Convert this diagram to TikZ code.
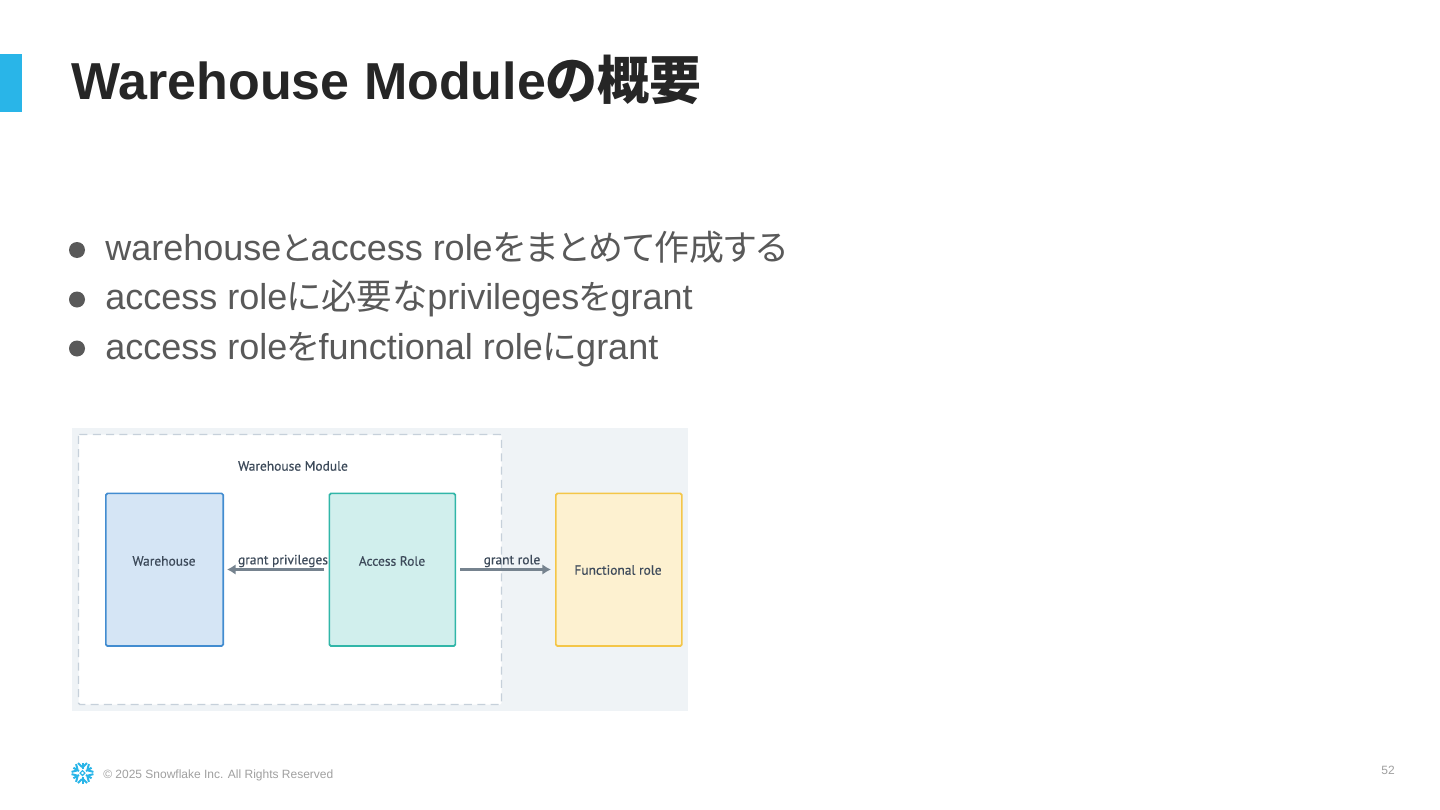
\documentclass[tikz,border=0pt]{standalone}
\usepackage{fontspec}
\setmainfont{Liberation Sans}
\newfontfamily\cjk[RawFeature={+palt}]{Noto Sans CJK JP}
\newfontfamily\din[RawFeature={embolden=0.5}]{PT Sans}
\newcommand{\fsz}[1]{\fontsize{#1}{#1}\selectfont}
\definecolor{accent}{HTML}{29B5E8}
\definecolor{titlec}{HTML}{262626}
\definecolor{bodyc}{HTML}{595959}
\definecolor{footc}{HTML}{A0A0A0}
\definecolor{panel}{HTML}{EFF3F6}
\definecolor{dashc}{HTML}{C6D0DA}
\definecolor{inkc}{HTML}{3D4A5A}
\definecolor{arrowc}{HTML}{76838F}
\usetikzlibrary{arrows.meta}
\tikzset{
  x=0.75pt,y=-0.75pt,
  titletext/.style={anchor=base west,inner sep=0,text=titlec,font=\fsz{39}\bfseries},
  bullettext/.style={anchor=base west,inner sep=0,text=bodyc,font=\fsz{27}},
  bulletdot/.style={circle,fill=bodyc,inner sep=0,minimum size=12pt},
  roleblock/.style={draw,line width=1.3pt,rounded corners=1.2pt,inner sep=0,anchor=north west},
  smalllabel/.style={inner sep=0,text=inkc,font=\din\fsz{10.1}},
  flowarrow/.style={draw=arrowc,line width=2pt,-{Latex[length=6.5pt,width=8pt]}},
  flake/.style={draw=accent,line width=1.5pt,line cap=butt},
}
\begin{document}
\begin{tikzpicture}
\useasboundingbox (0,0) rectangle (1440,810);
\fill[white] (0,0) rectangle (1440,810);
\fill[accent] (0,54) rectangle (22,112);
\node[titletext] (title) at (71,99) {Warehouse Module{\cjk\bfseries の概要}};
\node[bulletdot] (b1) at (77,250) {};
\node[bulletdot] (b2) at (77,299.5) {};
\node[bulletdot] (b3) at (77,348.5) {};
\node[bullettext] (t1) at (105,260) {warehouse{\cjk\fsz{25}と}access role{\cjk\fsz{26.2}をまとめて作成する}};
\node[bullettext] (t2) at (105,309) {access role{\cjk\fsz{26.6}に必要な}privileges{\cjk\fsz{25.5}を}grant};
\node[bullettext] (t3) at (105,359) {access role{\cjk\fsz{25.5}を}functional role{\cjk\fsz{26}に}grant};
\fill[panel] (72,428) rectangle (688,711);
\draw[dashc,fill=white,line width=1pt,dash pattern=on 6pt off 4pt,rounded corners=1pt] (78.5,434.5) rectangle (501.5,704.5);
\node[smalllabel] (wm) at (293,466) {Warehouse Module};
\node[roleblock,fill={rgb,255:red,213;green,229;blue,245},draw={rgb,255:red,66;green,140;blue,208},minimum width=88pt,minimum height=114.5pt] (wh) at (105,492.5) {};
\node[roleblock,fill={rgb,255:red,209;green,239;blue,237},draw={rgb,255:red,49;green,182;blue,168},minimum width=94.5pt,minimum height=114.5pt] (ar) at (328.5,492.5) {};
\node[roleblock,fill={rgb,255:red,253;green,241;blue,208},draw={rgb,255:red,244;green,198;blue,72},minimum width=94.5pt,minimum height=114.5pt] (fr) at (555,492.5) {};
\node[smalllabel] at (164,561) {Warehouse};
\node[smalllabel] at (392,561) {Access Role};
\node[smalllabel] at (618,570) {Functional role};
\coordinate (gp1) at (324,569.5);
\coordinate (gp2) at (227,569.5);
\coordinate (gr1) at (460,569.5);
\coordinate (gr2) at (551,569.5);
\draw[flowarrow] (gp1) -- (gp2);
\draw[flowarrow] (gr1) -- (gr2);
\node[smalllabel] at (283,561) {grant privileges};
\node[smalllabel] at (512,561) {grant role};
\foreach \a in {30,90,150,210,270,330}{
  \begin{scope}[shift={(82.5,773)},rotate=\a]
    \draw[flake] (4,0) -- (10.5,0);
    \draw[flake] (10,-4.5) -- (6.5,-1) -- (6.5,1) -- (10,4.5);
  \end{scope}
}
\draw[accent,line width=0.9pt] (82.5,770.6) -- (84.9,773) -- (82.5,775.4) -- (80.1,773) -- cycle;
\node[inner sep=0,anchor=base west,text=footc,font=\fsz{9}] (foot) at (103,778) {© 2025 Snowflake Inc. All Rights Reserved};
\node[inner sep=0,anchor=base east,text=footc,font=\fsz{9}] (pg) at (1395,774) {52};
\end{tikzpicture}
\end{document}
